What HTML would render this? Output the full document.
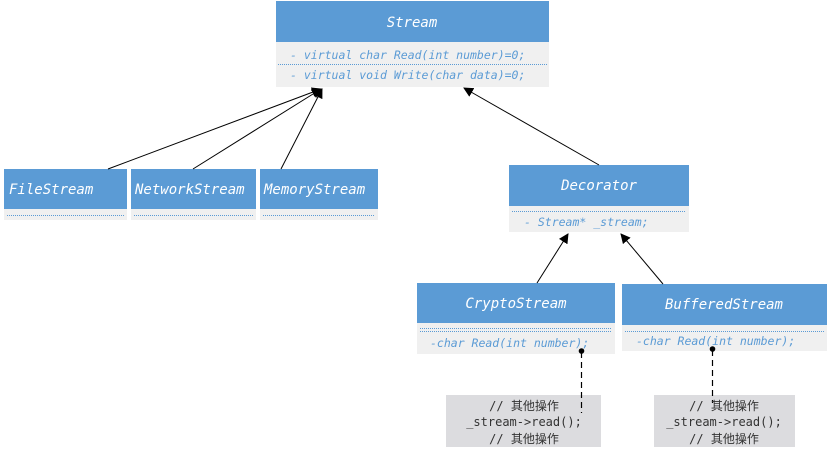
<!DOCTYPE html>
<html><head><style>body{margin:0;background:#fff}svg{display:block}</style></head><body>
<svg width="829" height="453" xmlns="http://www.w3.org/2000/svg" font-family="'DejaVu Sans Mono','Liberation Mono','Noto Sans CJK SC',monospace" font-style="italic">
<defs><marker id="a" markerWidth="10" markerHeight="10" refX="9" refY="5" orient="auto" markerUnits="userSpaceOnUse"><path d="M0,0 L10,5 L0,10 z" fill="#000"/></marker></defs>
<g fill="#f0f0f0"><rect x="276" y="42" width="273" height="45"/><rect x="4" y="209" width="123" height="11"/><rect x="131" y="209" width="125" height="11"/><rect x="260" y="209" width="118" height="11"/><rect x="509" y="206" width="180" height="26"/><rect x="417" y="323" width="198" height="31"/><rect x="622" y="325" width="205" height="26"/></g>
<g fill="#5b9bd5"><rect x="276" y="1" width="273" height="41"/><rect x="4" y="169" width="123" height="40"/><rect x="131" y="169" width="125" height="40"/><rect x="260" y="169" width="118" height="40"/><rect x="509" y="165" width="180" height="41"/><rect x="417" y="283" width="198" height="40"/><rect x="622" y="284" width="205" height="41"/></g>
<g stroke="#5b9bd5" stroke-dasharray="1,1" stroke-width="1"><line x1="278" y1="64.5" x2="547" y2="64.5"/><line x1="7" y1="215.5" x2="124" y2="215.5"/><line x1="134" y1="215.5" x2="253" y2="215.5"/><line x1="263" y1="215.5" x2="375" y2="215.5"/><line x1="512" y1="211.5" x2="686" y2="211.5"/><line x1="420" y1="328.5" x2="612" y2="328.5"/><line x1="420" y1="331.5" x2="612" y2="331.5"/><line x1="625" y1="331.5" x2="824" y2="331.5"/></g>
<g fill="#fff" font-size="14"><text x="412" y="27" text-anchor="middle">Stream</text><text x="9" y="194">FileStream</text><text x="135" y="194">NetworkStream</text><text x="264" y="194">MemoryStream</text><text x="599" y="190" text-anchor="middle">Decorator</text><text x="516" y="308" text-anchor="middle">CryptoStream</text><text x="724" y="309" text-anchor="middle">BufferedStream</text></g>
<g fill="#5b9bd5" font-size="11.5"><text x="290" y="59">- virtual char Read(int number)=0;</text><text x="290" y="79">- virtual void Write(char data)=0;</text><text x="524" y="226">- Stream*  _stream;</text><text x="430" y="347">-char Read(int number);</text><text x="636" y="345">-char Read(int number);</text></g>
<g stroke="#000" fill="none"><line x1="108" y1="169" x2="321" y2="89" marker-end="url(#a)"/><line x1="193" y1="169" x2="321" y2="89" marker-end="url(#a)"/><line x1="281" y1="169" x2="322" y2="89" marker-end="url(#a)"/><line x1="599" y1="165" x2="464" y2="88" marker-end="url(#a)"/><line x1="537" y1="283" x2="568" y2="234" marker-end="url(#a)"/><line x1="663" y1="284" x2="621" y2="234" marker-end="url(#a)"/></g>
<g fill="#dcdcdf"><rect x="446" y="395" width="155" height="52"/><rect x="654" y="395" width="141" height="52"/></g>
<g stroke="#000" stroke-dasharray="6,4" stroke-width="1.2"><line x1="581.5" y1="352" x2="581.5" y2="413"/><line x1="712.5" y1="350" x2="712.5" y2="403"/></g>
<circle cx="581.5" cy="351" r="2.8"/><circle cx="712.5" cy="349" r="2.8"/>
<g fill="#333" font-size="12" font-style="normal" text-anchor="middle"><text x="524" y="410">// 其他操作</text><text x="524" y="426">_stream-&gt;read();</text><text x="524" y="443">// 其他操作</text><text x="724" y="410">// 其他操作</text><text x="724" y="426">_stream-&gt;read();</text><text x="724" y="443">// 其他操作</text></g>
</svg></body></html>
